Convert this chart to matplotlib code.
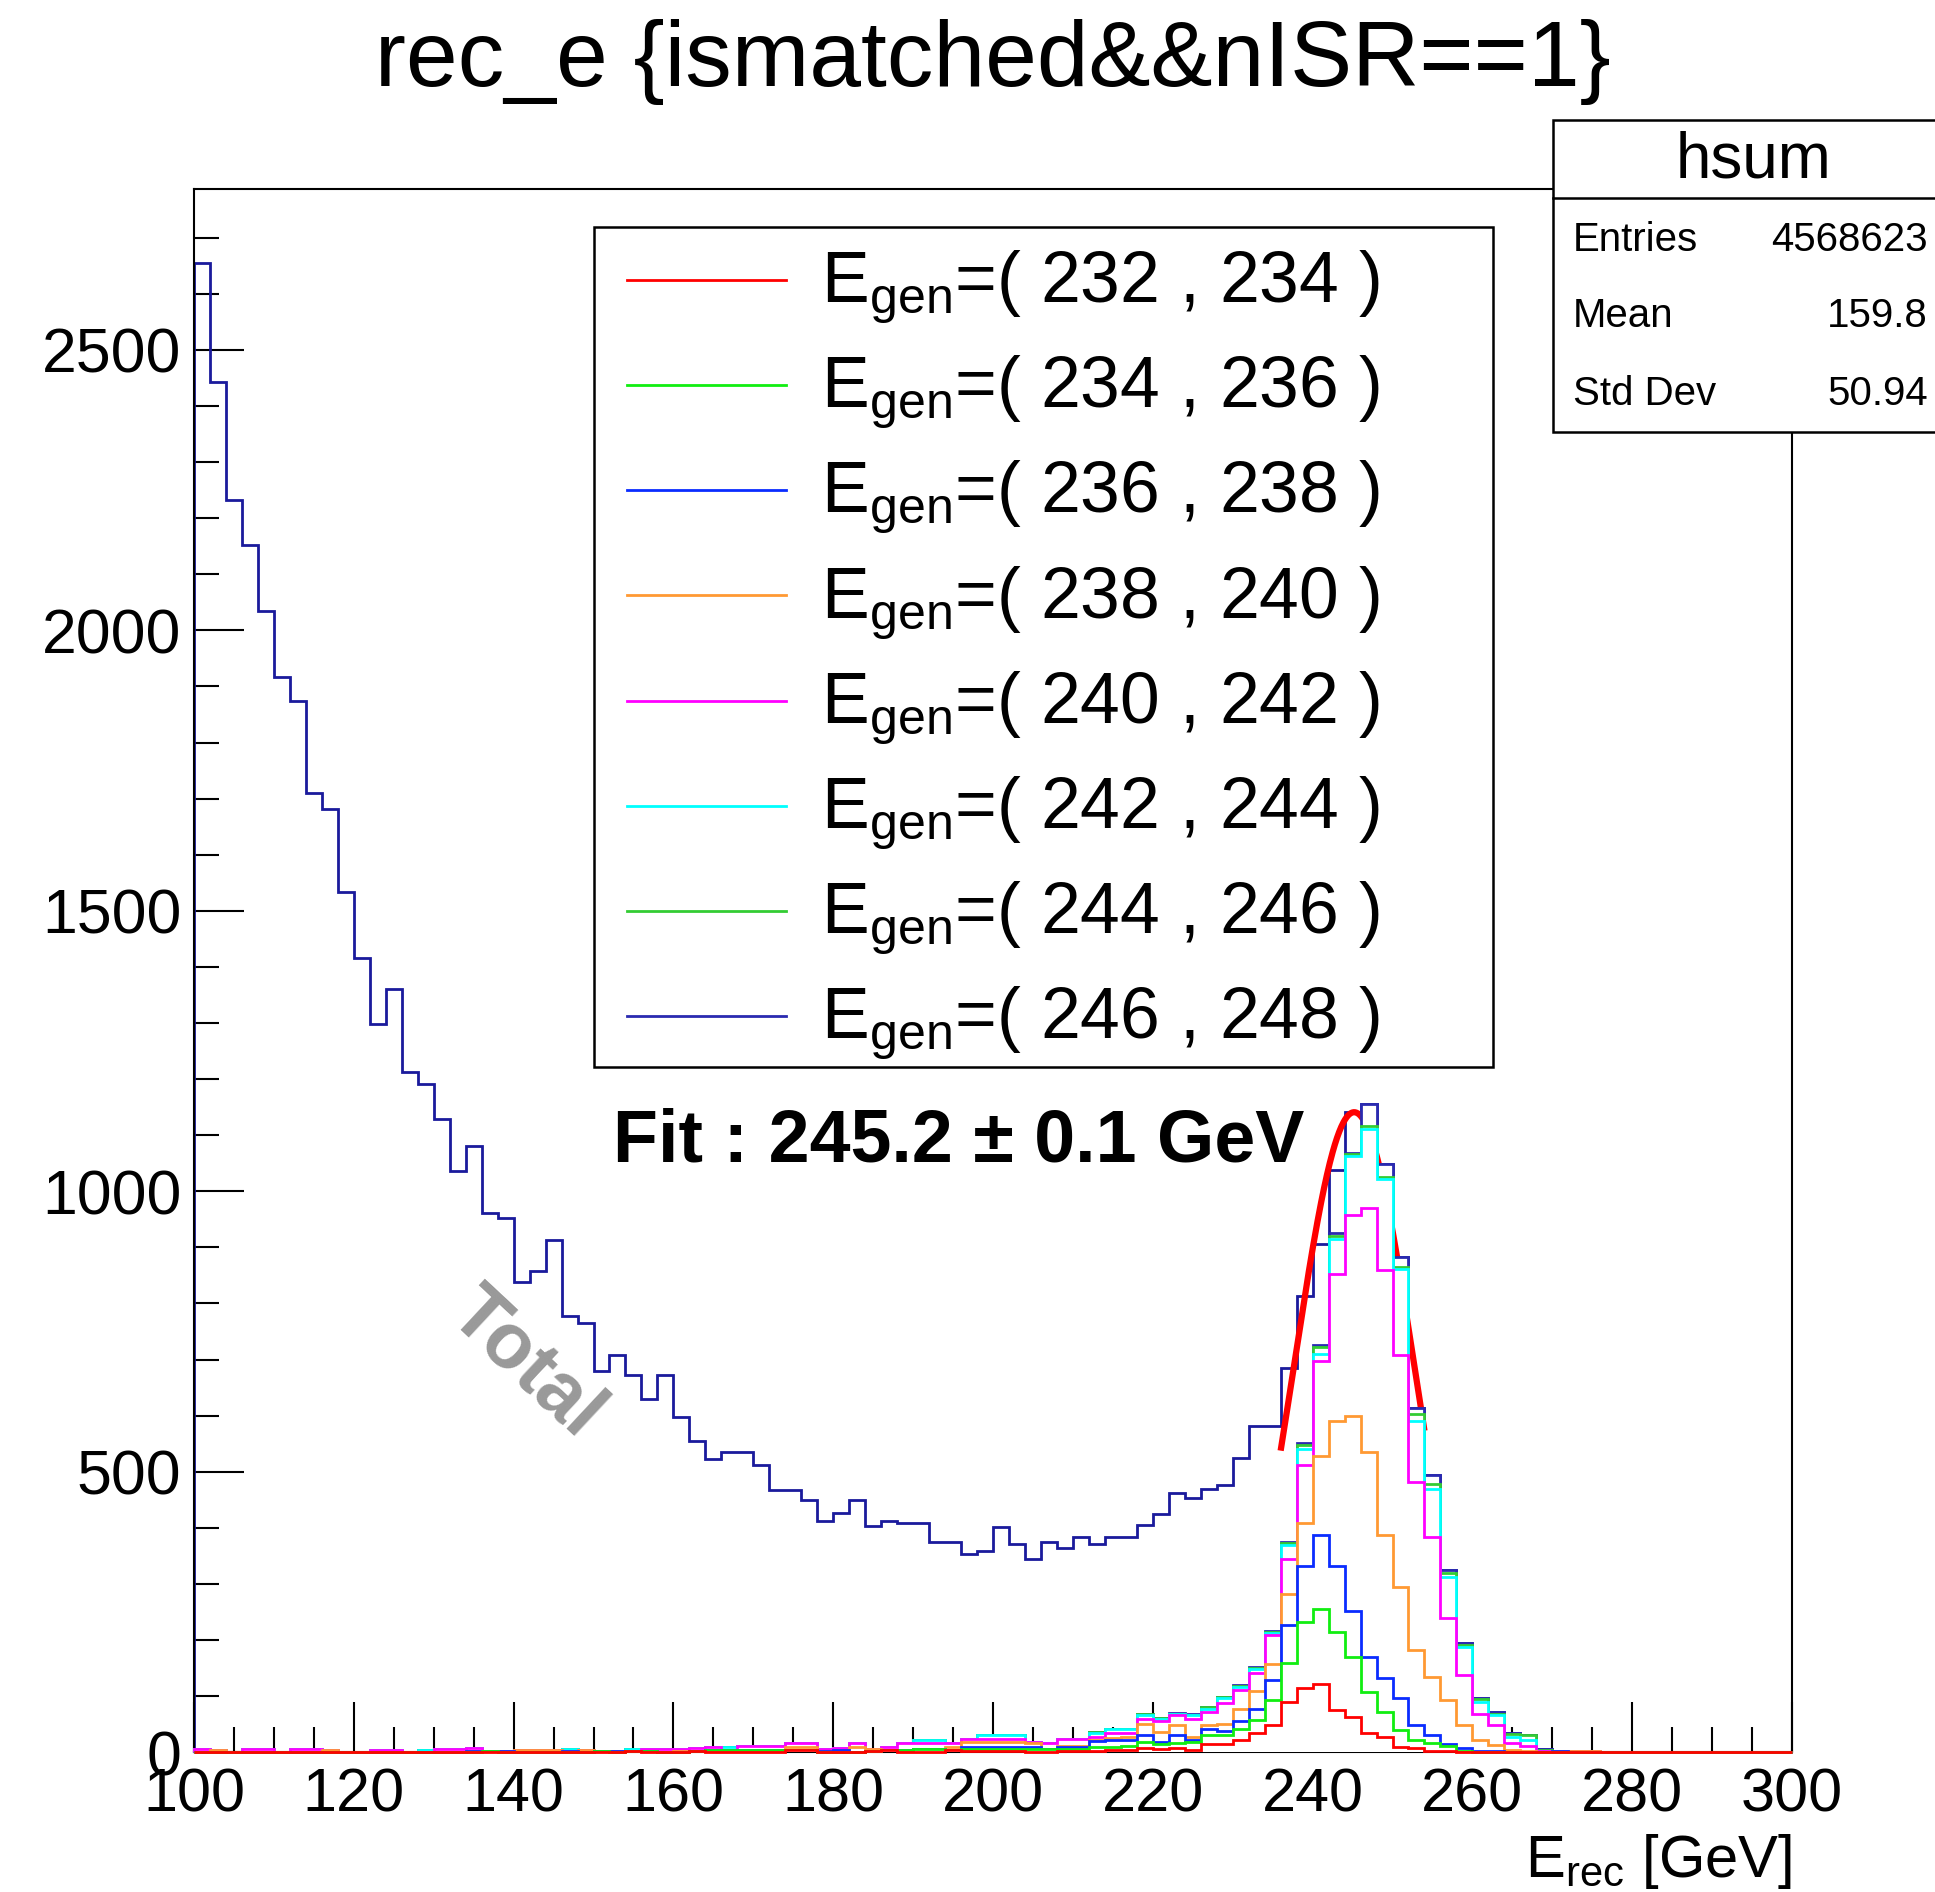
import numpy as np
import matplotlib
matplotlib.use('Agg')
import matplotlib.pyplot as plt
from matplotlib.patches import Rectangle
from matplotlib.lines import Line2D
from matplotlib.ticker import MultipleLocator

plt.rcParams['font.family'] = ['Liberation Sans', 'DejaVu Sans']
plt.rcParams['mathtext.fontset'] = 'custom'
plt.rcParams['mathtext.rm'] = 'Liberation Sans'
plt.rcParams['mathtext.it'] = 'Liberation Sans:italic'
plt.rcParams['mathtext.bf'] = 'Liberation Sans:bold'
plt.rcParams['mathtext.default'] = 'regular'

# ── binning: 100 bins of 2 GeV from 100 to 300 ────────────────────────
E_LO, E_HI, BIN_W = 100, 300, 2
edges = np.arange(E_LO, E_HI + BIN_W, BIN_W)

# ── total (hsum), read bin by bin ─────────────────────────────────────
hsum = [
    2654, 2442, 2233, 2152, 2034, 1917, 1874, 1710, 1682, 1533,
    1415, 1298, 1360, 1213, 1191, 1129, 1037, 1081, 962, 952,
    838, 858, 914, 778, 765, 679, 708, 673, 629, 673,
    598, 555, 523, 536, 536, 512, 468, 468, 450, 413,
    426, 450, 404, 413, 408, 408, 375, 375, 353, 359,
    402, 372, 344, 375, 365, 384, 372, 384, 384, 406,
    425, 463, 453, 470, 476, 525, 582, 582, 685, 814,
    906, 1038, 1141, 1155, 1049, 882, 614, 494, 325, 195,
    96, 71, 35, 31, 5, 2, 2, 2, 0, 0,
    0, 0, 0, 0, 0, 0, 0, 0, 0, 0,
]

# ── stacked components, one per E_gen window ──────────────────────────
gen_low = [232, 234, 236, 238, 240, 242, 244, 246]

n_232 = [
    0, 0, 0, 0, 0, 0, 0, 0, 0, 0,
    0, 0, 0, 0, 0, 0, 0, 0, 0, 0,
    0, 0, 0, 0, 0, 0, 0, 2, 0, 0,
    0, 2, 0, 0, 0, 0, 0, 4, 4, 0,
    0, 0, 2, 4, 0, 0, 0, 4, 2, 2,
    2, 2, 0, 0, 2, 2, 3, 4, 4, 8,
    5, 8, 4, 14, 14, 22, 34, 48, 90, 114,
    121, 76, 63, 34, 28, 10, 8, 3, 2, 1,
    0, 0, 0, 0, 0, 0, 0, 0, 0, 0,
    0, 0, 0, 0, 0, 0, 0, 0, 0, 0,
]
n_234 = [
    0, 0, 0, 0, 0, 0, 0, 0, 0, 0,
    0, 0, 0, 0, 0, 0, 0, 0, 3, 0,
    0, 0, 0, 0, 0, 3, 0, 0, 3, 0,
    0, 0, 4, 4, 4, 4, 4, 0, 0, 0,
    0, 0, 0, 0, 4, 5, 5, 0, 3, 3,
    3, 3, 5, 5, 3, 3, 7, 6, 8, 10,
    9, 9, 14, 16, 16, 20, 24, 46, 70, 118,
    135, 138, 107, 74, 43, 30, 14, 13, 10, 2,
    1, 1, 0, 0, 0, 0, 0, 0, 0, 0,
    0, 0, 0, 0, 0, 0, 0, 0, 0, 0,
]
n_236 = [
    0, 0, 0, 0, 0, 0, 0, 0, 0, 0,
    0, 0, 0, 0, 0, 0, 0, 3, 0, 3,
    0, 0, 0, 3, 0, 0, 3, 0, 0, 0,
    0, 0, 0, 0, 0, 0, 0, 0, 0, 2,
    4, 0, 0, 0, 0, 0, 0, 0, 5, 5,
    5, 5, 5, 0, 5, 5, 10, 12, 10, 12,
    5, 13, 4, 12, 8, 13, 20, 35, 67, 100,
    131, 118, 82, 62, 61, 56, 27, 15, 3, 4,
    2, 1, 1, 1, 0, 2, 0, 0, 0, 0,
    0, 0, 0, 0, 0, 0, 0, 0, 0, 0,
]
n_238 = [
    0, 4, 0, 0, 0, 0, 0, 0, 4, 0,
    0, 0, 0, 0, 0, 0, 0, 0, 0, 0,
    4, 4, 4, 0, 4, 0, 0, 0, 0, 0,
    3, 0, 0, 0, 0, 0, 0, 5, 5, 0,
    0, 10, 3, 0, 0, 0, 0, 6, 9, 9,
    9, 9, 6, 0, 2, 2, 2, 3, 5, 20,
    17, 18, 6, 7, 12, 22, 32, 29, 56, 76,
    142, 258, 347, 365, 255, 199, 133, 104, 78, 42,
    19, 11, 3, 2, 0, 0, 2, 2, 0, 0,
    0, 0, 0, 0, 0, 0, 0, 0, 0, 0,
]
n_240 = [
    5, 0, 0, 5, 5, 0, 5, 5, 0, 0,
    0, 4, 4, 0, 0, 5, 5, 5, 0, 0,
    0, 0, 0, 0, 0, 0, 0, 0, 3, 5,
    3, 6, 5, 0, 7, 7, 7, 8, 8, 3,
    3, 7, 0, 6, 13, 12, 12, 7, 4, 4,
    4, 4, 3, 12, 11, 11, 6, 9, 7, 10,
    19, 18, 32, 23, 38, 34, 32, 51, 62, 104,
    169, 263, 358, 436, 472, 414, 300, 248, 146, 89,
    47, 36, 13, 9, 3, 0, 0, 0, 0, 0,
    0, 0, 0, 0, 0, 0, 0, 0, 0, 0,
]
n_242 = [
    0, 0, 0, 0, 0, 0, 0, 0, 0, 0,
    0, 0, 0, 0, 4, 0, 0, 0, 0, 0,
    0, 0, 0, 3, 0, 0, 0, 3, 0, 0,
    0, 0, 0, 6, 0, 0, 0, 0, 0, 0,
    0, 0, 0, 0, 0, 5, 5, 0, 1, 7,
    7, 7, 0, 0, 0, 1, 7, 7, 7, 7,
    5, 2, 6, 6, 8, 6, 7, 4, 24, 29,
    12, 62, 106, 140, 163, 153, 109, 87, 74, 50,
    21, 17, 11, 10, 0, 0, 0, 0, 0, 0,
    0, 0, 0, 0, 0, 0, 0, 0, 0, 0,
]
n_244 = [
    0, 0, 0, 0, 0, 0, 0, 0, 0, 0,
    0, 0, 0, 0, 0, 0, 0, 0, 0, 0,
    0, 0, 0, 0, 0, 0, 0, 0, 0, 0,
    0, 0, 0, 0, 0, 0, 0, 0, 0, 0,
    0, 0, 0, 0, 0, 0, 0, 0, 0, 0,
    0, 0, 0, 0, 0, 0, 1, 1, 1, 1,
    1, 1, 1, 2, 2, 2, 2, 2, 4, 7,
    12, 6, 3, 6, 3, 3, 12, 9, 6, 3,
    5, 3, 5, 8, 1, 0, 0, 0, 0, 0,
    0, 0, 0, 0, 0, 0, 0, 0, 0, 0,
]
n_246 = [
    0, 0, 0, 0, 0, 0, 0, 0, 0, 0,
    0, 0, 0, 0, 0, 0, 0, 0, 0, 0,
    0, 0, 0, 0, 0, 0, 0, 0, 0, 0,
    0, 0, 0, 0, 0, 0, 0, 0, 0, 0,
    0, 0, 0, 0, 0, 0, 0, 0, 0, 0,
    0, 0, 0, 0, 0, 0, 0, 0, 0, 1,
    1, 1, 1, 1, 1, 1, 1, 1, 2, 3,
    4, 5, 3, 38, 24, 17, 11, 15, 6, 4,
    1, 2, 2, 1, 1, 0, 0, 0, 0, 0,
    0, 0, 0, 0, 0, 0, 0, 0, 0, 0,
]

components = [n_232, n_234, n_236, n_238, n_240, n_242, n_244, n_246]
colors = ['#ff0000', '#11ee11', '#0a2cff', '#ff9933',
          '#ff00ff', '#00ffff', '#33cc33', '#2a2ab0']
NAVY = '#1a1a9c'

# ── gaussian fit shown on the total ───────────────────────────────────
FIT_MEAN, FIT_ERR = 245.2, 0.1
FIT_SIGMA, FIT_AMP = 7.5, 1141
FIT_RANGE = (236, 254)

# ── stats box ─────────────────────────────────────────────────────────
STAT_NAME = 'hsum'
STAT_ENTRIES, STAT_MEAN, STAT_STD = 4568623, 159.8, 50.94

# ── figure / axes ─────────────────────────────────────────────────────
fig = plt.figure(figsize=(19.35, 18.92), dpi=100)
fig.patch.set_facecolor('white')
ax = fig.add_axes([0.10026, 0.07384, 0.82584, 0.82637])

ax.stairs(hsum, edges, baseline=0, edgecolor=NAVY, lw=2, zorder=2)

xf = np.linspace(FIT_RANGE[0], FIT_RANGE[1], 200)
yf = FIT_AMP * np.exp(-0.5 * ((xf - FIT_MEAN) / FIT_SIGMA) ** 2)
ax.plot(xf, yf, color='#ff0000', lw=4.5, zorder=2.5, solid_capstyle='butt')

# stack is painted from the full sum down to the first component,
# each one filled white so it hides what is underneath
cum = np.cumsum(np.array(components), axis=0)
n = len(components)
for k in range(n - 1, -1, -1):
    z = 3 + (n - k) * 0.1
    ax.stairs(cum[k], edges, baseline=0, fill=True, facecolor='white',
              edgecolor='none', zorder=z)
    ax.stairs(cum[k], edges, baseline=0, edgecolor=colors[k], lw=2,
              zorder=z + 0.05, clip_on=False)

ax.set_xlim(E_LO, E_HI)
ax.set_ylim(0, 2787)
ax.xaxis.set_major_locator(MultipleLocator(20))
ax.xaxis.set_minor_locator(MultipleLocator(5))
ax.yaxis.set_major_locator(MultipleLocator(500))
ax.yaxis.set_minor_locator(MultipleLocator(100))
ax.tick_params(which='both', direction='in', top=False, right=False,
               width=1.5, color='black')
ax.tick_params(which='major', length=36)
ax.tick_params(which='minor', length=18)
ax.tick_params(axis='x', labelsize=44, pad=11)
ax.tick_params(axis='y', labelsize=45, pad=9)
for s in ax.spines.values():
    s.set_linewidth(1.5)

# ── annotations ───────────────────────────────────────────────────────
fig.text(0.5132, 0.9545, 'rec_e {ismatched&&nISR==1}', ha='center',
         va='baseline', fontsize=67)

ax.text(1.0, -0.0797, r'E$_{rec}$ [GeV]', transform=ax.transAxes,
        ha='right', va='baseline', fontsize=43)

ax.text(0.2622, 0.3776, f'Fit : {FIT_MEAN:.1f} \u00b1 {FIT_ERR:.1f} GeV',
        transform=ax.transAxes, ha='left', va='baseline', fontsize=53,
        fontweight='bold', zorder=12)

ax.text(0.2074, 0.2484, 'Total', transform=ax.transAxes, ha='center',
        va='center', rotation=-43, rotation_mode='anchor', fontsize=56,
        fontweight='bold', color='#999999', zorder=12)

# ── legend box ────────────────────────────────────────────────────────
ax.add_patch(Rectangle((0.2503, 0.4383), 0.5626, 0.5373, transform=ax.transAxes,
                       facecolor='white', edgecolor='black', lw=1.8,
                       zorder=10, clip_on=False))
for i, lo in enumerate(gen_low):
    y_line = (1752.3 - (280 + 105.14 * i)) / 1563.5
    y_base = (1752.3 - (301.7 + 105.14 * i)) / 1563.5
    ax.add_line(Line2D([0.271, 0.3705], [y_line, y_line], transform=ax.transAxes,
                       color=colors[i], lw=2, zorder=11))
    ax.text(0.3924, y_base, r'E$_{gen}$=( %d , %d )' % (lo, lo + BIN_W),
            transform=ax.transAxes, ha='left', va='baseline', fontsize=51.5,
            zorder=11)

# ── stats box (runs off the right edge) ───────────────────────────────
fig.add_artist(Rectangle((0.8026, 0.7717), 0.3, 0.1649, transform=fig.transFigure,
                         facecolor='white', edgecolor='black', lw=1.8, zorder=5))
fig.add_artist(Line2D([0.8026, 1.0], [0.8953, 0.8953], transform=fig.transFigure,
                      color='black', lw=1.8, zorder=6))
fig.text(0.906, 0.9154, STAT_NAME, ha='center', va='center', fontsize=46, zorder=7)
rows = [('Entries', f'{STAT_ENTRIES}'), ('Mean', f'{STAT_MEAN:.1f}'),
        ('Std Dev', f'{STAT_STD:.2f}')]
for (lab, val), yy in zip(rows, [0.873, 0.833, 0.7915]):
    fig.text(0.8129, yy, lab, ha='left', va='center', fontsize=29, zorder=7)
    fig.text(0.9964, yy, val, ha='right', va='center', fontsize=29, zorder=7)

fig.savefig('out.png', dpi=100, facecolor='white')
